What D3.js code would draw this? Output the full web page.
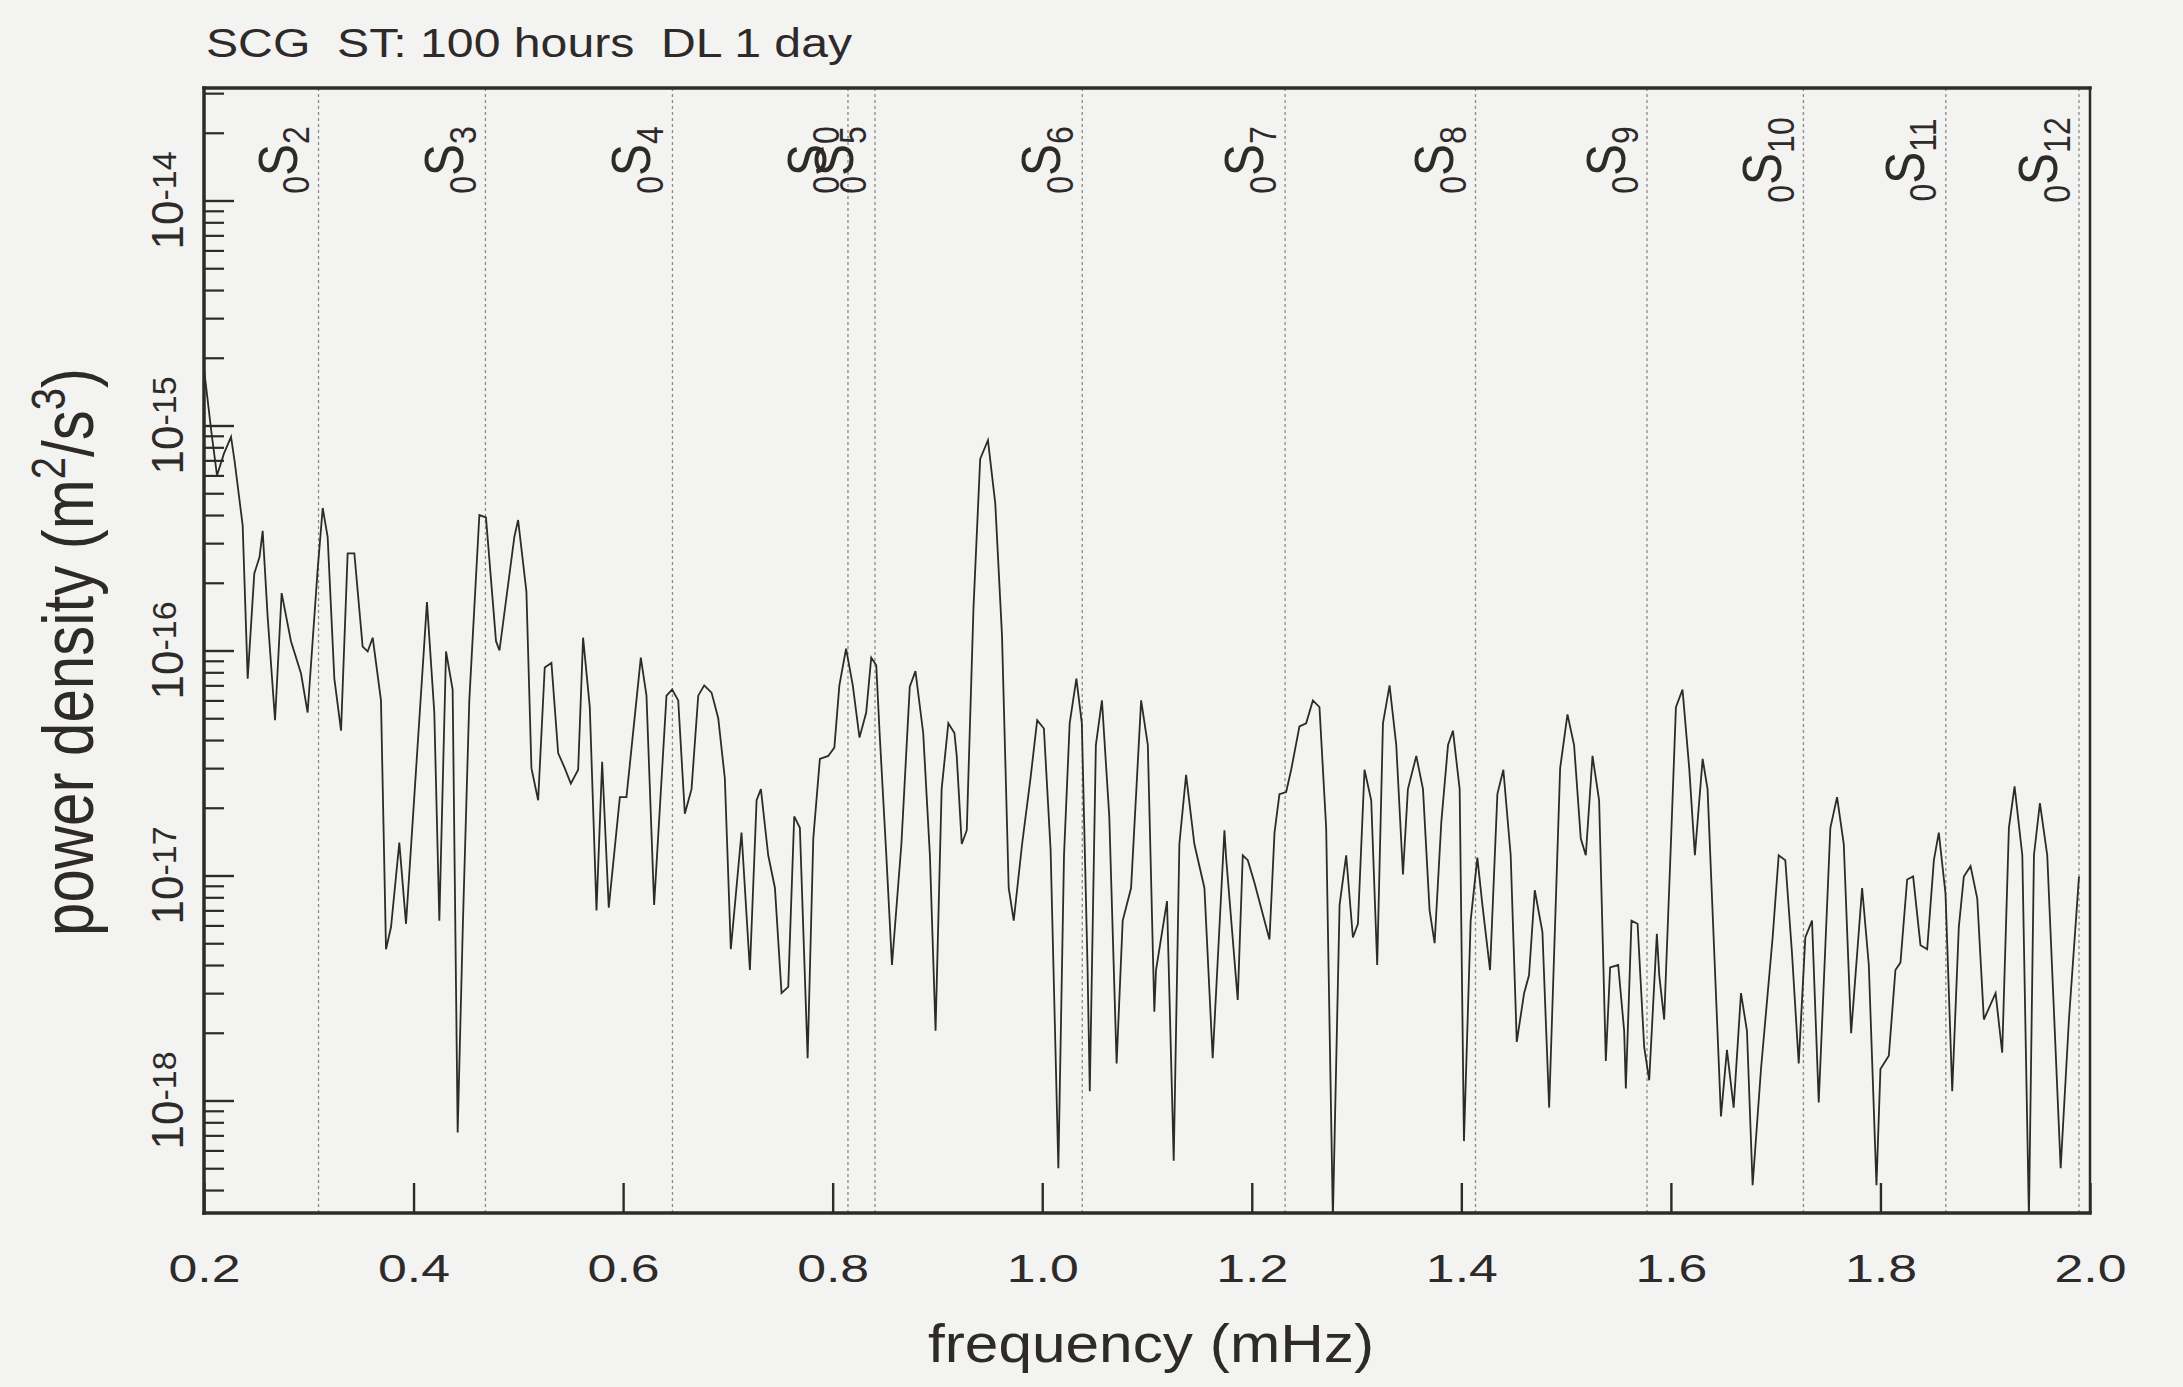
<!DOCTYPE html>
<html>
<head>
<meta charset="utf-8">
<script src="https://cdn.jsdelivr.net/npm/d3@7"></script>
<style>
  body { margin: 0; background: #f3f3f1; }
  svg { display: block; font-family: "Liberation Sans", Arial, sans-serif; }
</style>
</head>
<body>
<svg class="plot" width="2183" height="1387"></svg>
<script>
// spectrum (mHz, m^2/s^3)
var freq = [
  0.200,0.207,0.2124,0.219,0.2258,0.2293,0.2369,0.2417,0.2480,0.2530,
  0.2560,0.2608,0.2678,0.2741,0.2830,0.2926,0.2989,0.3085,0.3133,0.3180,
  0.3244,0.3308,0.3371,0.3435,0.3514,0.3562,0.3610,0.3689,0.3737,0.3785,
  0.3864,0.3928,0.4128,0.4198,0.4246,0.4310,0.4373,0.4421,0.4470,0.4532,
  0.4628,0.4691,0.4787,0.4820,0.4962,0.4998,
  0.5077,0.5125,0.5189,0.5252,0.5316,0.5380,0.5443,0.5501,0.5571,0.5618,
  0.5682,0.5746,0.5800,0.5863,0.5969,0.6032,0.6169,0.6223,0.6296,0.6414,
  0.6468,0.6526,0.6589,0.6653,0.6717,0.6774,0.6844,0.6908,0.6971,0.7028,
  0.7130,0.7210,0.7274,0.7315,0.7385,0.7449,0.7512,0.7576,0.7633,0.7687,
  0.7761,0.7815,0.7878,0.7958,
  0.8016,0.8064,0.8128,0.8192,0.8256,0.8320,0.8368,0.8416,0.8448,0.8512,
  0.8566,0.8656,0.8736,0.8790,0.8864,0.8928,0.8982,0.9040,0.9104,0.9162,
  0.9184,0.9232,0.9280,0.9344,0.9408,0.9482,0.9552,0.9616,0.9680,0.9728,
  0.9808,0.9888,0.9952,1.0016,1.0080,1.0154,1.0208,1.0262,1.0326,1.0378,
  1.0432,1.0454,1.0512,1.0570,1.0640,1.0710,1.0768,1.0848,1.0944,1.1008,
  1.1070,1.1086,1.1191,1.1255,1.1309,1.1373,1.1452,1.1548,1.1627,1.1739,
  1.1755,1.1866,1.1914,1.1962,1.2025,1.2169,1.2217,1.2264,1.2328,1.2376,
  1.2455,1.2519,1.2583,1.2646,1.2710,1.2774,1.2838,1.2901,1.2965,1.3013,
  1.3076,1.3140,1.3197,1.3252,1.3315,1.3379,1.3443,1.3490,1.3570,1.3634,
  1.3697,1.3745,1.3809,1.3873,1.3920,1.3984,
  1.4025,1.4089,1.4153,1.4201,1.4274,1.4344,1.4401,1.4471,1.4529,1.4599,
  1.4646,1.4701,1.4774,1.4838,1.4943,1.5013,1.5076,1.5140,1.5188,1.5252,
  1.5315,1.5379,1.5420,1.5497,1.5554,1.5570,1.5624,1.5682,1.5745,1.5793,
  1.5866,1.5889,1.5936,1.6000,1.6048,1.6111,1.6175,1.6229,1.6303,1.6350,
  1.6478,1.6535,1.6599,1.6669,1.6726,1.6780,1.6860,1.6971,
  1.7029,1.7092,1.7156,1.7220,1.7283,1.7347,1.7411,1.7522,1.7586,1.7650,
  1.7720,1.7825,1.7889,1.7962,1.8000,1.8080,1.8143,1.8191,1.8255,1.8312,
  1.8382,1.8446,1.8510,1.8557,1.8621,1.8685,1.8748,1.8796,1.8860,1.8924,
  1.8987,1.9099,1.9162,1.9226,1.9280,1.9354,1.9417,1.9465,1.9522,1.9592,
  1.9720,1.9799,1.9895
];
var power = [
  1.79e-15,9.4e-16,6.0e-16,7.5e-16,8.9e-16,6.9e-16,3.6e-16,7.5e-17,2.2e-16,2.6e-16,
  3.4e-16,1.4e-16,4.9e-17,1.8e-16,1.1e-16,7.9e-17,5.3e-17,2.3e-16,4.3e-16,3.2e-16,
  7.5e-17,4.4e-17,2.7e-16,2.7e-16,1.04e-16,9.9e-17,1.14e-16,6.0e-17,4.7e-18,5.9e-18,
  1.4e-17,6.1e-18,1.64e-16,5.3e-17,6.3e-18,9.9e-17,6.7e-17,7.2e-19,5.9e-18,6.0e-17,
  4.0e-16,3.9e-16,1.1e-16,1.0e-16,3.2e-16,3.8e-16,
  1.83e-16,3.0e-17,2.16e-17,8.4e-17,8.8e-17,3.5e-17,3.0e-17,2.56e-17,2.95e-17,1.14e-16,
  5.6e-17,7.0e-18,3.2e-17,7.2e-18,2.23e-17,2.23e-17,9.3e-17,6.3e-17,7.4e-18,6.3e-17,
  6.7e-17,6.0e-17,1.88e-17,2.42e-17,6.3e-17,7.0e-17,6.5e-17,5.0e-17,2.7e-17,4.7e-18,
  1.55e-17,3.8e-18,2.16e-17,2.42e-17,1.23e-17,8.8e-18,3.0e-18,3.2e-18,1.83e-17,1.63e-17,
  1.54e-18,1.46e-17,3.3e-17,3.4e-17,
  3.7e-17,7.0e-17,1.02e-16,7.0e-17,4.1e-17,5.3e-17,9.3e-17,8.6e-17,4.3e-17,1.23e-17,
  4.0e-18,1.38e-17,6.9e-17,8.1e-17,4.3e-17,1.23e-17,2.04e-18,2.42e-17,4.75e-17,4.3e-17,
  3.4e-17,1.38e-17,1.59e-17,1.55e-16,7.1e-16,8.6e-16,4.5e-16,1.17e-16,8.8e-18,6.3e-18,
  1.38e-17,2.7e-17,4.9e-17,4.5e-17,1.3e-17,5.0e-19,1.23e-17,4.75e-17,7.5e-17,4.75e-17,
  4.0e-18,1.1e-18,3.8e-17,6.0e-17,1.83e-17,1.46e-18,6.3e-18,8.8e-18,6.0e-17,3.8e-17,
  2.48e-18,3.8e-18,7.7e-18,5.4e-19,1.38e-17,2.8e-17,1.38e-17,8.8e-18,1.54e-18,1.59e-17,
  1.2e-17,2.8e-18,1.23e-17,1.17e-17,9.3e-18,5.2e-18,1.55e-17,2.3e-17,2.35e-17,2.95e-17,
  4.6e-17,4.75e-17,6.0e-17,5.6e-17,1.63e-17,3.0e-19,7.4e-18,1.23e-17,5.3e-18,6.1e-18,
  2.95e-17,2.16e-17,4.0e-18,4.75e-17,7.0e-17,3.8e-17,1.01e-17,2.42e-17,3.4e-17,2.42e-17,
  7.0e-18,5.0e-18,1.73e-17,3.8e-17,4.4e-17,2.42e-17,
  6.6e-19,6.3e-18,1.2e-17,7.4e-18,3.8e-18,2.3e-17,2.95e-17,1.23e-17,1.82e-18,3.0e-18,
  3.6e-18,8.6e-18,5.6e-18,9.3e-19,3.0e-17,5.2e-17,3.8e-17,1.46e-17,1.23e-17,3.4e-17,
  2.16e-17,1.5e-18,3.9e-18,4.0e-18,2.04e-18,1.13e-18,6.3e-18,6.1e-18,1.73e-18,1.23e-18,
  5.5e-18,3.6e-18,2.29e-18,1.38e-17,5.6e-17,6.7e-17,3.0e-17,1.23e-17,3.3e-17,2.42e-17,
  8.5e-19,1.68e-18,9.3e-19,3.0e-18,2.04e-18,4.2e-19,1.38e-18,5.3e-18,
  1.23e-17,1.17e-17,4.5e-18,1.46e-18,5.3e-18,6.3e-18,9.8e-19,1.63e-17,2.23e-17,1.38e-17,
  1.99e-18,8.8e-18,4.0e-18,4.2e-19,1.38e-18,1.58e-18,3.8e-18,4.1e-18,9.6e-18,9.9e-18,
  4.9e-18,4.7e-18,1.17e-17,1.55e-17,8.3e-18,1.1e-18,5.9e-18,9.9e-18,1.1e-17,7.9e-18,
  2.29e-18,3.0e-18,1.63e-18,1.63e-17,2.49e-17,1.23e-17,3.0e-19,1.23e-17,2.1e-17,1.23e-17,
  5.0e-19,2.29e-18,9.9e-18
];

// fundamental spheroidal modes 0Sl
var modeOrder = ["0","0","0","0","0","0","0","0","0","0","0","0"];
var modeDegree = ["2","3","4","0","5","6","7","8","9","10","11","12"];
var modeFreq = [0.3093,0.4686,0.6471,0.8146,0.8404,1.0382,1.2318,1.4135,1.5772,1.7265,1.8624,1.9895];

var xTicks = [0.2,0.4,0.6,0.8,1.0,1.2,1.4,1.6,1.8,2.0];
var yExponents = [-18,-17,-16,-15,-14];

var svg = d3.select(".plot"),
    margin = {top: 88, right: 2090, bottom: 1213, left: 204};

var x = d3.scaleLinear().domain([0.2, 2.0]).range([margin.left, margin.right]);
var y = d3.scaleLog().domain([Math.pow(10,-18.5), Math.pow(10,-13.5)]).range([margin.bottom, margin.top]);

var ink = "#2e2a2a";

svg.append("defs").append("clipPath").attr("id","clip")
  .append("rect").attr("x",margin.left).attr("y",margin.top)
  .attr("width",margin.right-margin.left).attr("height",margin.bottom-margin.top);

// title
svg.append("text")
    .attr("x", 206).attr("y", 57)
    .attr("textLength", 646).attr("lengthAdjust","spacingAndGlyphs")
    .style("font-size","40px").style("fill", ink)
    .attr("xml:space","preserve")
    .text("SCG  ST: 100 hours  DL 1 day");

// mode lines
svg.selectAll(".mode")
    .data(modeFreq)
    .enter().append("line")
    .attr("class","mode")
    .attr("x1", function(d){ return x(d); }).attr("x2", function(d){ return x(d); })
    .attr("y1", margin.top).attr("y2", margin.bottom)
    .attr("stroke","#8a8a8a").attr("stroke-width",1.3)
    .attr("stroke-dasharray","3,3");

// mode labels, rotated
var ml = svg.selectAll(".mlab")
    .data(modeFreq)
    .enter().append("text")
    .attr("class","mlab")
    .attr("transform", function(d){ return "translate(" + (x(d) - 22) + ",160) scale(1.15,1) rotate(-90)"; })
    .attr("text-anchor","middle")
    .style("fill", ink);
ml.append("tspan").style("font-size","32px").attr("dy",11)
    .text(function(d,i){ return modeOrder[i]; });
ml.append("tspan").style("font-size","48px").attr("dy",-11)
    .text("S");
ml.append("tspan").style("font-size","32px").attr("dy",11)
    .text(function(d,i){ return modeDegree[i]; });

// y axis ticks (major and minor, pointing inward)
var minor = [];
for (var e = -19; e <= -14; e++) {
  for (var k = 2; k <= 9; k++) {
    var v = k * Math.pow(10, e);
    if (v > y.domain()[0] && v < y.domain()[1]) minor.push(v);
  }
}
var majors = yExponents.map(function(e){ return Math.pow(10, e); });

svg.append("g")
    .attr("transform","translate(" + margin.left + ",0)")
    .call(d3.axisLeft(y).tickValues(minor).tickSize(-20).tickFormat(""))
    .call(function(g){ g.select(".domain").remove(); })
    .selectAll("line").attr("stroke", ink).attr("stroke-width",2.2);

svg.append("g")
    .attr("transform","translate(" + margin.left + ",0)")
    .call(d3.axisLeft(y).tickValues(majors).tickSize(-30).tickFormat(""))
    .call(function(g){ g.select(".domain").remove(); })
    .selectAll("line").attr("stroke", ink).attr("stroke-width",2.4);

// y tick labels 10^n, rotated
var yl = svg.selectAll(".ylab")
    .data(yExponents)
    .enter().append("text")
    .attr("class","ylab")
    .attr("transform", function(d){ return "translate(183," + y(Math.pow(10,d)) + ") rotate(-90)"; })
    .attr("text-anchor","middle")
    .style("fill", ink);
yl.append("tspan").style("font-size","44px").text("10");
yl.append("tspan").style("font-size","34px").attr("dy",-7).text(function(d){ return String(d); });

// x axis
var xa = svg.append("g")
    .attr("transform","translate(0," + margin.bottom + ")")
    .call(d3.axisBottom(x).tickValues(xTicks).tickSize(-30).tickFormat(d3.format(".1f")));
xa.select(".domain").remove();
xa.selectAll("line").attr("stroke", ink).attr("stroke-width",2.4);
xa.selectAll("text")
    .attr("y", 69).attr("dy", null)
    .attr("textLength", 72).attr("lengthAdjust","spacingAndGlyphs")
    .style("font-size","38px").style("font-family","Liberation Sans, Arial, sans-serif")
    .style("fill", ink);

// spectrum
var pts = freq.map(function(f, i){ return [f, power[i]]; });
svg.append("path")
    .datum(pts)
    .attr("clip-path","url(#clip)")
    .attr("fill","none")
    .attr("stroke", ink)
    .attr("stroke-width",1.8)
    .attr("stroke-linejoin","miter")
    .attr("d", d3.line().x(function(d){ return x(d[0]); }).y(function(d){ return y(d[1]); }));

// frame
var frame = [
  [margin.left, margin.top, margin.right, margin.top, 3.5],
  [margin.left, margin.bottom, margin.right, margin.bottom, 3.5],
  [margin.left, margin.top, margin.left, margin.bottom, 3.5],
  [margin.right, margin.top, margin.right, margin.bottom, 2.5]
];
svg.selectAll(".frame")
    .data(frame)
    .enter().append("line")
    .attr("class","frame")
    .attr("x1", function(d){ return d[0]; }).attr("y1", function(d){ return d[1]; })
    .attr("x2", function(d){ return d[2]; }).attr("y2", function(d){ return d[3]; })
    .attr("stroke", ink).attr("stroke-width", function(d){ return d[4]; })
    .attr("stroke-linecap","square");

// axis titles
svg.append("text")
    .attr("x", (margin.left + margin.right) / 2 + 4).attr("y", 1362)
    .attr("text-anchor","middle")
    .attr("textLength", 446).attr("lengthAdjust","spacingAndGlyphs")
    .style("font-size","54px").style("fill", ink)
    .text("frequency (mHz)");

var yt = svg.append("text")
    .attr("transform","translate(93,652) scale(1.2,1) rotate(-90)")
    .attr("text-anchor","middle")
    .style("font-size","60px").style("fill", ink);
yt.append("tspan").text("power density (m");
yt.append("tspan").style("font-size","40px").attr("dy",-23).text("2");
yt.append("tspan").attr("dy",23).text("/s");
yt.append("tspan").style("font-size","40px").attr("dy",-23).text("3");
yt.append("tspan").attr("dy",23).text(")");
</script>
</body>
</html>
